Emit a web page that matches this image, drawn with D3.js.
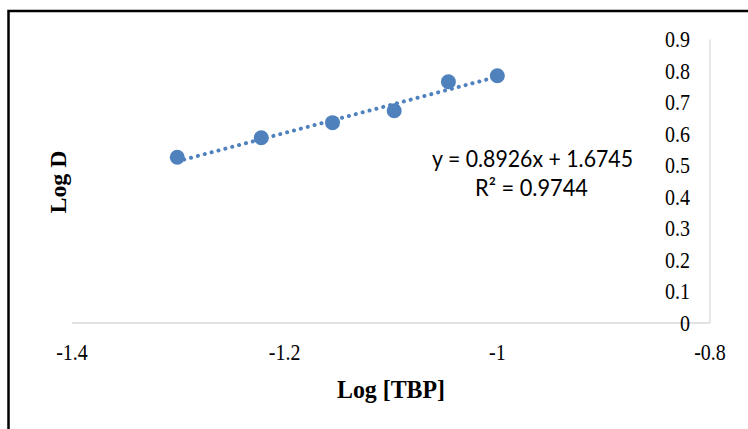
<!DOCTYPE html>
<html>
<head>
<meta charset="utf-8">
<script src="https://cdn.jsdelivr.net/npm/d3@7"></script>
<style>
  html, body { margin: 0; padding: 0; background: #fff; }
  svg { display: block; }
</style>
</head>
<body>
<svg id="chart" width="748" height="429"></svg>
<script>
// ---- data ----
const logTBP = [-1.301, -1.222, -1.155, -1.097, -1.046, -1.0];
const logD   = [0.526, 0.588, 0.636, 0.674, 0.766, 0.785];
const xTicks = [-1.4, -1.2, -1.0, -0.8];
const xTickLabels = ["-1.4", "-1.2", "-1", "-0.8"];
const yTicks = [0, 0.1, 0.2, 0.3, 0.4, 0.5, 0.6, 0.7, 0.8, 0.9];
const yTickLabels = ["0", "0.1", "0.2", "0.3", "0.4", "0.5", "0.6", "0.7", "0.8", "0.9"];
const slope = 0.8926, intercept = 1.6745;
const eqText = "y = 0.8926x + 1.6745";
const r2Text = "R² = 0.9744";
const xTitle = "Log [TBP]";
const yTitle = "Log D";

// ---- layout ----
const svg = d3.select("#chart");
const x = d3.scaleLinear().domain([-1.4, -0.8]).range([72, 710]);
const y = d3.scaleLinear().domain([0, 0.9]).range([323, 39.5]);
const serif = "'Liberation Serif', 'Times New Roman', serif";
const sans = "Lato, 'Open Sans', sans-serif";
const blue = "#4f81bd";

// outer border (left + top visible, cropped on the others)
svg.append("rect")
  .attr("x", 8.5).attr("y", 11).attr("width", 760).attr("height", 440)
  .attr("fill", "none").attr("stroke", "#000").attr("stroke-width", 2.5);

// x axis line (at y = 0)
svg.append("line")
  .attr("x1", x(-1.4)).attr("x2", x(-0.8))
  .attr("y1", y(0)).attr("y2", y(0))
  .attr("stroke", "#d9d9d9").attr("stroke-width", 1.3);

// y axis line (at x = -0.8)
svg.append("line")
  .attr("x1", x(-0.8)).attr("x2", x(-0.8))
  .attr("y1", y(0)).attr("y2", y(0.9))
  .attr("stroke", "#d9d9d9").attr("stroke-width", 1.3);

// x tick labels (slightly tall glyphs, as in the reference)
svg.append("g").selectAll("text").data(xTicks).join("text")
  .attr("transform", d => `translate(${x(d)},360) scale(1,1.12)`)
  .attr("text-anchor", "middle")
  .attr("font-family", serif).attr("font-size", 20).attr("fill", "#000")
  .text((d, i) => xTickLabels[i]);

// y tick labels
svg.append("g").selectAll("text").data(yTicks).join("text")
  .attr("transform", d => `translate(690,${y(d) + 7.5}) scale(1,1.12)`)
  .attr("text-anchor", "end")
  .attr("font-family", serif).attr("font-size", 20).attr("fill", "#000")
  .text((d, i) => yTickLabels[i]);

// axis titles
svg.append("text")
  .attr("transform", "translate(391,398) scale(1,1.1)")
  .attr("text-anchor", "middle")
  .attr("font-family", serif).attr("font-weight", "bold").attr("font-size", 22)
  .attr("textLength", 108).attr("lengthAdjust", "spacingAndGlyphs")
  .text(xTitle);

svg.append("text")
  .attr("transform", "translate(66,182) rotate(-90)")
  .attr("text-anchor", "middle")
  .attr("font-family", serif).attr("font-weight", "bold").attr("font-size", 23)
  .attr("textLength", 63).attr("lengthAdjust", "spacingAndGlyphs")
  .text(yTitle);

// trendline (dotted)
const x0 = d3.min(logTBP), x1 = d3.max(logTBP);
svg.append("line")
  .attr("x1", x(x0)).attr("y1", y(slope * x0 + intercept))
  .attr("x2", x(x1)).attr("y2", y(slope * x1 + intercept))
  .attr("stroke", blue).attr("stroke-width", 4)
  .attr("stroke-linecap", "round")
  .attr("stroke-dasharray", "0.1 7");

// markers
svg.append("g").selectAll("circle").data(logTBP).join("circle")
  .attr("cx", d => x(d))
  .attr("cy", (d, i) => y(logD[i]))
  .attr("r", 7.5)
  .attr("fill", blue);

// equation labels
svg.append("text")
  .attr("x", 432).attr("y", 167)
  .attr("font-family", sans).attr("font-size", 23)
  .attr("textLength", 201).attr("lengthAdjust", "spacingAndGlyphs")
  .attr("fill", "#000")
  .text(eqText);
svg.append("text")
  .attr("x", 475).attr("y", 196)
  .attr("font-family", sans).attr("font-size", 23)
  .attr("textLength", 113).attr("lengthAdjust", "spacingAndGlyphs")
  .attr("fill", "#000")
  .text(r2Text);
</script>
</body>
</html>
